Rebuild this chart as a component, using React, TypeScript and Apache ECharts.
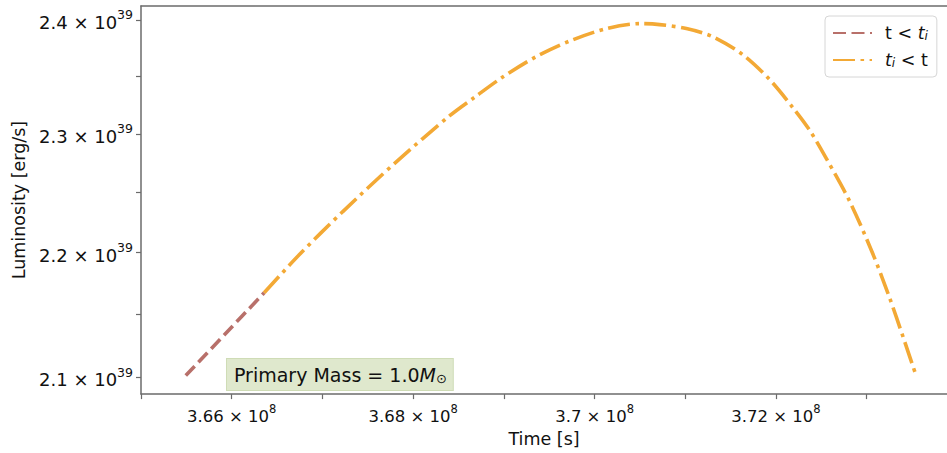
import React, { useEffect, useRef } from "react";
import * as echarts from "echarts";

// Time [s] and luminosity [erg/s]
const timeBefore = [3.654934e8, 3.659249e8, 3.663576e8];
const lumBefore = [2.1013e39, 2.134e39, 2.1673e39];

const timeAfter = [
  3.663576e8, 3.667439e8, 3.672219e8, 3.678113e8, 3.683996e8, 3.686755e8,
  3.689879e8, 3.693565e8, 3.697241e8, 3.701291e8, 3.704967e8, 3.707174e8,
  3.710121e8, 3.713057e8, 3.716369e8, 3.719316e8, 3.721887e8, 3.723731e8,
  3.725574e8, 3.728146e8, 3.730718e8, 3.732561e8, 3.734029e8, 3.73532e8,
];
const lumAfter = [
  2.1673e39, 2.1983e39, 2.2339e39, 2.2758e39, 2.3154e39, 2.3315e39,
  2.3493e39, 2.3673e39, 2.3811e39, 2.3922e39, 2.3967e39, 2.3958e39,
  2.3922e39, 2.3849e39, 2.3688e39, 2.3469e39, 2.3223e39, 2.3028e39,
  2.2785e39, 2.2423e39, 2.1983e39, 2.1624e39, 2.1314e39, 2.1039e39,
];

const xMajorTicks = [3.66e8, 3.68e8, 3.7e8, 3.72e8];
const xAllTicks = [3.65e8, 3.66e8, 3.67e8, 3.68e8, 3.69e8, 3.7e8, 3.71e8, 3.72e8, 3.73e8];
const yMajorTicks = [2.1e39, 2.2e39, 2.3e39, 2.4e39];
const yAllTicks = [2.1e39, 2.15e39, 2.2e39, 2.25e39, 2.3e39, 2.35e39, 2.4e39];

const seriesNames = ["t < t_i", "t_i < t"];
const annotationText = "Primary Mass = 1.0";

const xMin = 3.65e8;
const xMax = 3.73885e8;
const yMin = 2.0868e39;
const yMax = 2.4125e39;

const FONT = "DejaVu Sans";
const SPINE = "#6b6b6b";

export default function App() {
  const ref = useRef<HTMLDivElement>(null);
  useEffect(() => {
    document.body.style.margin = "0";
    if (!ref.current) return;
    const chart = echarts.init(ref.current, null, { renderer: "svg" });
    const lg = (v: number) => Math.log10(v);
    const toPts = (ts: number[], ls: number[]) => ts.map((t, i) => [t, lg(ls[i])]);

    chart.setOption({
      animation: false,
      backgroundColor: "#ffffff",
      textStyle: { fontFamily: FONT },
      grid: { left: 141, right: 0, top: 6, bottom: 56, containLabel: false },
      legend: {
        orient: "vertical",
        left: 825,
        top: 16,
        padding: [8, 9, 8, 7],
        itemGap: 9,
        itemWidth: 39,
        itemHeight: 12,
        backgroundColor: "#ffffff",
        borderColor: "#d6d6d6",
        borderWidth: 1,
        borderRadius: 4,
        itemStyle: { opacity: 0 },
        data: seriesNames,
        formatter: (name: string) =>
          name === seriesNames[0] ? "{n|t < }{it|t}{sub|i}" : "{it|t}{sub|i}{n| < t}",
        textStyle: {
          fontFamily: FONT,
          fontSize: 17.5,
          color: "#111",
          padding: [0, 0, 0, 8],
          rich: {
            n: { fontFamily: FONT, fontSize: 17.5, color: "#111" },
            it: { fontFamily: FONT, fontSize: 17.5, fontStyle: "italic", color: "#111" },
            sub: { fontFamily: FONT, fontSize: 12, fontStyle: "italic", color: "#111", verticalAlign: "bottom", padding: [6, 0, 0, 0] },
          },
        },
      },
      xAxis: [
        {
          type: "value",
          min: xMin,
          max: xMax,
          position: "bottom",
          name: "Time [s]",
          nameLocation: "middle",
          nameGap: 34,
          nameTextStyle: { fontFamily: FONT, fontSize: 17.5, color: "#111" },
          splitLine: { show: false },
          axisLine: { show: true, lineStyle: { color: SPINE, width: 1.5 } },
          axisTick: {
            show: true,
            length: 5,
            customValues: xAllTicks,
            lineStyle: { color: SPINE, width: 1.2 },
          },
          axisLabel: {
            customValues: xMajorTicks,
            margin: 9,
            formatter: (v: number) => {
              const m = +(v / 1e8).toFixed(2);
              return `{n|${m} × 10}{s|8}`;
            },
            rich: {
              n: { fontFamily: FONT, fontSize: 16.5, color: "#111", padding: [5, 0, 0, 0] },
              s: { fontFamily: FONT, fontSize: 11.5, color: "#111", verticalAlign: "top" },
            },
          },
        },
        {
          type: "value",
          min: xMin,
          max: xMax,
          position: "top",
          splitLine: { show: false },
          axisLine: { show: true, lineStyle: { color: SPINE, width: 1.5 } },
          axisTick: { show: false },
          axisLabel: { show: false },
        },
      ],
      yAxis: {
        type: "value",
        min: lg(yMin),
        max: lg(yMax),
        name: "Luminosity [erg/s]",
        nameLocation: "middle",
        nameGap: 112,
        nameTextStyle: { fontFamily: FONT, fontSize: 17.5, color: "#111" },
        splitLine: { show: false },
        axisLine: { show: true, lineStyle: { color: SPINE, width: 1.5 } },
        axisTick: {
          show: true,
          length: 5,
          customValues: yAllTicks.map(lg),
          lineStyle: { color: SPINE, width: 1.2 },
        },
        axisLabel: {
          customValues: yMajorTicks.map(lg),
          margin: 8,
          formatter: (v: number) => {
            const m = Math.pow(10, v - 39).toFixed(1);
            return `{n|${m} × 10}{s|39}`;
          },
          rich: {
            n: { fontFamily: FONT, fontSize: 18, color: "#111", padding: [5, 0, 0, 0] },
            s: { fontFamily: FONT, fontSize: 12.5, color: "#111", verticalAlign: "top" },
          },
        },
      },
      series: [
        {
          name: seriesNames[0],
          type: "line",
          data: toPts(timeBefore, lumBefore),
          showSymbol: false,
          symbol: "none",
          smooth: 0.3,
          lineStyle: { color: "#b8706a", width: 3.6, type: [13, 5.5] },
          itemStyle: { color: "#b8706a" },
        },
        {
          name: seriesNames[1],
          type: "line",
          data: toPts(timeAfter, lumAfter),
          showSymbol: false,
          symbol: "none",
          smooth: 0.3,
          lineStyle: { color: "#f3a935", width: 3.6, type: [22, 5.5, 3.6, 5.5] },
          itemStyle: { color: "#f3a935" },
        },
      ],
      graphic: [
        {
          type: "text",
          left: 226,
          top: 358,
          style: {
            text: `${annotationText}{it|M}{sub|⊙}`,
            fontFamily: FONT,
            fontSize: 19,
            fill: "#111",
            backgroundColor: "#dfe8cd",
            borderColor: "#cfdcb6",
            borderWidth: 1,
            padding: [6, 6, 5, 7],
            rich: {
              it: { fontFamily: FONT, fontSize: 19, fontStyle: "italic", fill: "#111" },
              sub: { fontFamily: FONT, fontSize: 13, fill: "#111", padding: [7, 0, 0, 0] },
            },
          },
        },
      ],
    });
    return () => chart.dispose();
  }, []);
  return <div ref={ref} style={{ width: 947, height: 453 }} />;
}
